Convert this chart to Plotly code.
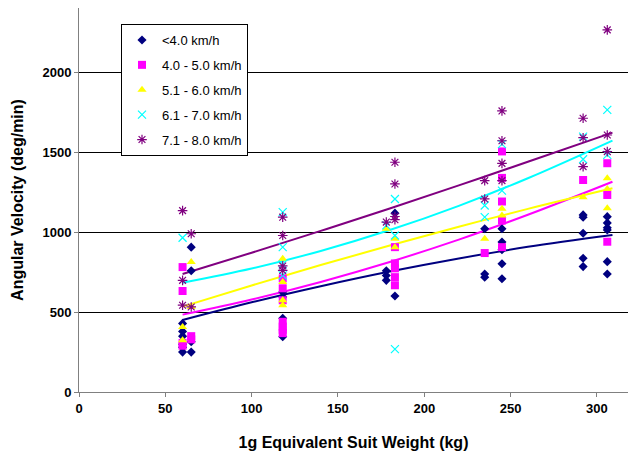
import plotly.graph_objects as go

# ---------------- data ----------------
labels = ["<4.0 km/h", "4.0 - 5.0 km/h", "5.1 - 6.0 km/h", "6.1 - 7.0 km/h", "7.1 - 8.0 km/h"]

s1_x = [60, 60, 60, 60, 60, 60, 65, 65, 65, 65, 118, 118, 118, 118, 178, 178, 178, 183, 183,
        235, 235, 235, 245, 245, 245, 245, 245, 292, 292, 292, 292, 292, 306, 306, 306, 306, 306, 306]
s1_y = [430, 380, 350, 300, 280, 250, 908, 760, 315, 250, 627, 596, 462, 346, 760, 730, 700, 1121, 602,
        1023, 740, 720, 1023, 940, 892, 804, 710, 1110, 1095, 995, 838, 786, 1099, 1060, 1030, 1016, 817, 740]

s2_x = [60, 60, 60, 60, 65, 65, 118, 118, 118, 118, 118, 118, 118, 183, 183, 183, 183, 183,
        235, 245, 245, 245, 245, 245, 292, 306, 306, 306]
s2_y = [783, 633, 308, 290, 350, 330, 712, 650, 575, 440, 410, 390, 369, 908, 806, 775, 720, 669,
        871, 1508, 1342, 1194, 1075, 908, 1329, 1434, 1235, 942]

s3_x = [60, 60, 65, 65, 118, 118, 118, 118, 178, 183, 183, 235, 245, 245, 292, 306, 306, 306]
s3_y = [408, 325, 815, 533, 835, 690, 575, 544, 1023, 960, 908, 960, 1148, 1106, 1221, 1340, 1273, 1152]

s4_x = [60, 118, 118, 118, 118, 178, 183, 183, 183, 235, 235, 245, 245, 292, 292, 306, 306]
s4_y = [967, 1127, 908, 800, 731, 1044, 1210, 981, 269, 1169, 1096, 1554, 1262, 1601, 1459, 1768, 1486]

s5_x = [60, 60, 60, 65, 65, 118, 118, 118, 118, 178, 183, 183, 183, 183, 235, 235,
        245, 245, 245, 245, 292, 292, 292, 306, 306, 306]
s5_y = [1137, 700, 544, 992, 533, 1096, 981, 790, 762, 1065, 1440, 1304, 1100, 1080, 1325, 1210,
        1762, 1575, 1433, 1325, 1716, 1594, 1413, 2270, 1611, 1507]

# trend curves (values at these suit weights)
trend_x = [60, 100, 140, 180, 220, 260, 309]
trend1 = [451, 562, 663, 755, 837, 910, 984]
trend2 = [485, 580, 690, 815, 955, 1111, 1318]
trend3 = [535, 668, 796, 918, 1036, 1148, 1277]
trend4 = [685, 774, 884, 1015, 1167, 1340, 1576]
trend5 = [740, 873, 1010, 1150, 1295, 1443, 1626]

x_ticks = [0, 50, 100, 150, 200, 250, 300]
y_ticks = [0, 500, 1000, 1500, 2000]

# ---------------- styling ----------------
colors = ["#000080", "#FF00FF", "#FFFF00", "#00FFFF", "#800080"]
symbols = ["diamond", "square", "triangle-up", "x-thin-open", "asterisk-open"]
sizes = [7, 8, 8, 8, 8]
xs = [s1_x, s2_x, s3_x, s4_x, s5_x]
ys = [s1_y, s2_y, s3_y, s4_y, s5_y]
trends = [trend1, trend2, trend3, trend4, trend5]

fig = go.Figure()

for i in range(5):
    fig.add_trace(go.Scatter(
        x=trend_x, y=trends[i], mode="lines",
        line=dict(color=colors[i], width=2, shape="spline", smoothing=1.0),
        showlegend=False, hoverinfo="skip"))

for i in range(5):
    marker = dict(color=colors[i], symbol=symbols[i], size=sizes[i])
    if symbols[i].endswith("open"):
        marker["line"] = dict(color=colors[i], width=1.2)
    else:
        marker["line"] = dict(width=0)
    fig.add_trace(go.Scatter(
        x=xs[i], y=ys[i], mode="markers", name=labels[i], marker=marker,
        legendgroup="g%d" % i))

font_family = "Liberation Sans, Arial, sans-serif"

fig.update_layout(
    width=628, height=456,
    margin=dict(l=79, r=0, t=8, b=64),
    paper_bgcolor="white", plot_bgcolor="white",
    font=dict(family=font_family, color="black"),
    showlegend=True,
    legend=dict(
        x=(121 - 79) / 549, xanchor="left",
        y=1 - (24 - 8) / 384, yanchor="top",
        bgcolor="white", bordercolor="black", borderwidth=1,
        font=dict(size=13, family=font_family, color="black"),
        tracegroupgap=5, itemwidth=30,
    ),
    xaxis=dict(
        range=[0, 318], tickvals=x_ticks, ticktext=[str(v) for v in x_ticks],
        showgrid=False, zeroline=False,
        showline=True, linecolor="#808080", linewidth=1,
        ticks="outside", ticklen=4, tickcolor="#808080",
        tickfont=dict(size=13, family=font_family, color="black", weight="bold"),
        title=dict(text="1g Equivalent Suit Weight (kg)", standoff=22,
                   font=dict(size=16, family=font_family, color="black", weight="bold")),
    ),
    yaxis=dict(
        range=[0, 2407], tickvals=y_ticks, ticktext=[str(v) for v in y_ticks],
        showgrid=True, gridcolor="black", gridwidth=1, zeroline=False,
        showline=True, linecolor="#808080", linewidth=1,
        ticks="outside", ticklen=4, tickcolor="#808080",
        tickfont=dict(size=13, family=font_family, color="black", weight="bold"),
        title=dict(text="Angular Velocity (deg/min)", standoff=14,
                   font=dict(size=16, family=font_family, color="black", weight="bold")),
    ),
)

fig.write_html("out.html")
